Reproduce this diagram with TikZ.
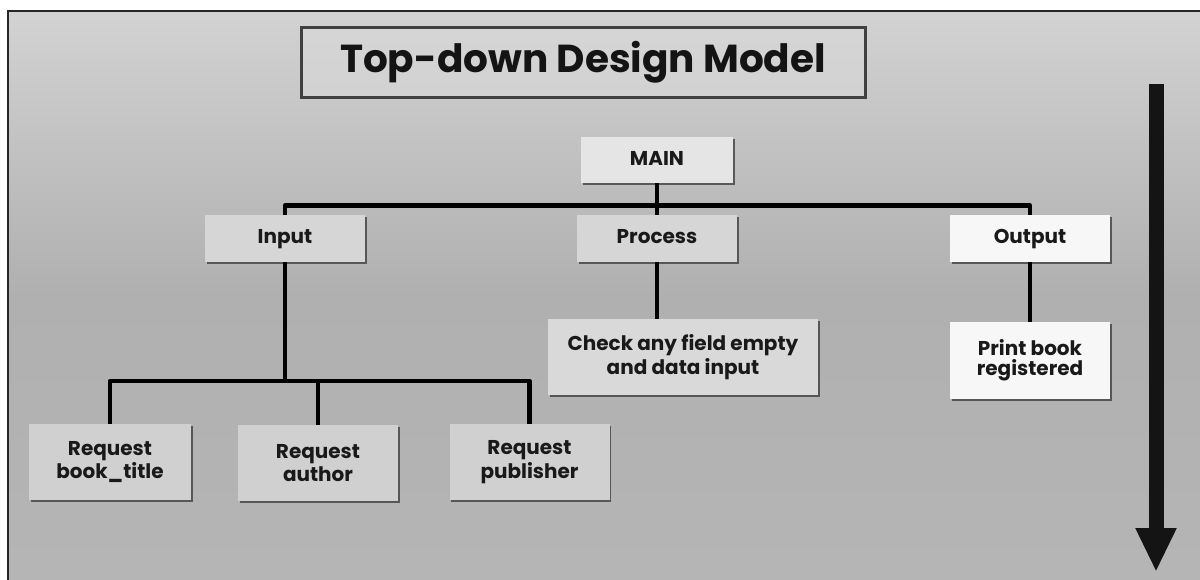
\documentclass[tikz,border=0pt]{standalone}
\usepackage{fontspec}
\setmainfont{Poppins}
\usetikzlibrary{arrows.meta,shadows}

\tikzset{
	box/.style={draw=none, fill=#1, minimum width=80pt, minimum height=23.5pt, inner sep=1pt, align=center,
		font=\fontsize{10}{9.8}\selectfont\bfseries, text=black!90,
		drop shadow={shadow xshift=0.9pt, shadow yshift=-0.9pt, fill=black!75, opacity=.8}},
	box/.default={gray!32},
	oneline/.style={text height=7.5pt, text depth=2.2pt},
	link/.style={line width=2.2pt, black, line join=round},
}

\begin{document}
\begin{tikzpicture}[x=0.5pt, y=-0.5pt]
	\useasboundingbox (0,0) rectangle (1200,579);
	\fill [white] (0,0) rectangle (1200,579);
	\shade [top color=gray!35, bottom color=gray!58, middle color=gray!62] (8,11) rectangle (1200,579);
	\draw [line width=1.2pt, black!85] (1201,11) -- (8,11) -- (8,580);

	\node [draw=black!75, line width=1.5pt, fill=gray!30, fill opacity=.6, text opacity=1,
		minimum width=282pt, minimum height=35pt, font=\fontsize{19.5}{24}\selectfont\bfseries, text=black!92]
		(title) at (583,62) {Top-down Design Model};

	\node [box=gray!20, oneline, minimum width=76pt, minimum height=23pt] (main) at (657,160) {MAIN};
	\node [box=gray!32, oneline] (input) at (285,238.5) {Input};
	\node [box=gray!32, oneline] (process) at (657,238.5) {Process};
	\node [box=gray!6, oneline] (output) at (1030,238.5) {Output};

	\node [box=gray!30, minimum width=135pt, minimum height=38pt] (check) at (683,357) {Check any field empty\\and data input};
	\node [box=gray!6, minimum height=38.5pt] (print) at (1030,360.5) {Print book\\registered};

	\node [box=gray!37, minimum width=81pt, minimum height=38pt] (bktitle) at (110,462) {Request\\book\_title};
	\node [box=gray!37, minimum height=38pt] (author) at (318,463) {Request\\author};
	\node [box=gray!37, minimum height=38pt] (publisher) at (529.5,462) {Request\\publisher};

	% connectors
	\draw [link] (main.south) -- (process.north);
	\draw [link] (input.north) -- ++(0,-9) -| (output.north);
	\coordinate (split) at (285,381);
	\draw [link] (input.south) -- (split);
	\draw [link] (bktitle.north) |- (split) -| (publisher.north);
	\draw [link] (author.north) -- (author.north |- split);
	\draw [link] (process.south) -- (process.south |- check.north);
	\draw [link] (output.south) -- (print.north);

	% flow arrow
	\coordinate (flowtop) at (1156,84);
	\coordinate (flowend) at (1156,572);
	\draw [line width=7.5pt, black!92, -{Triangle[width=19pt, length=22pt]}] (flowtop) -- (flowend);
\end{tikzpicture}
\end{document}
